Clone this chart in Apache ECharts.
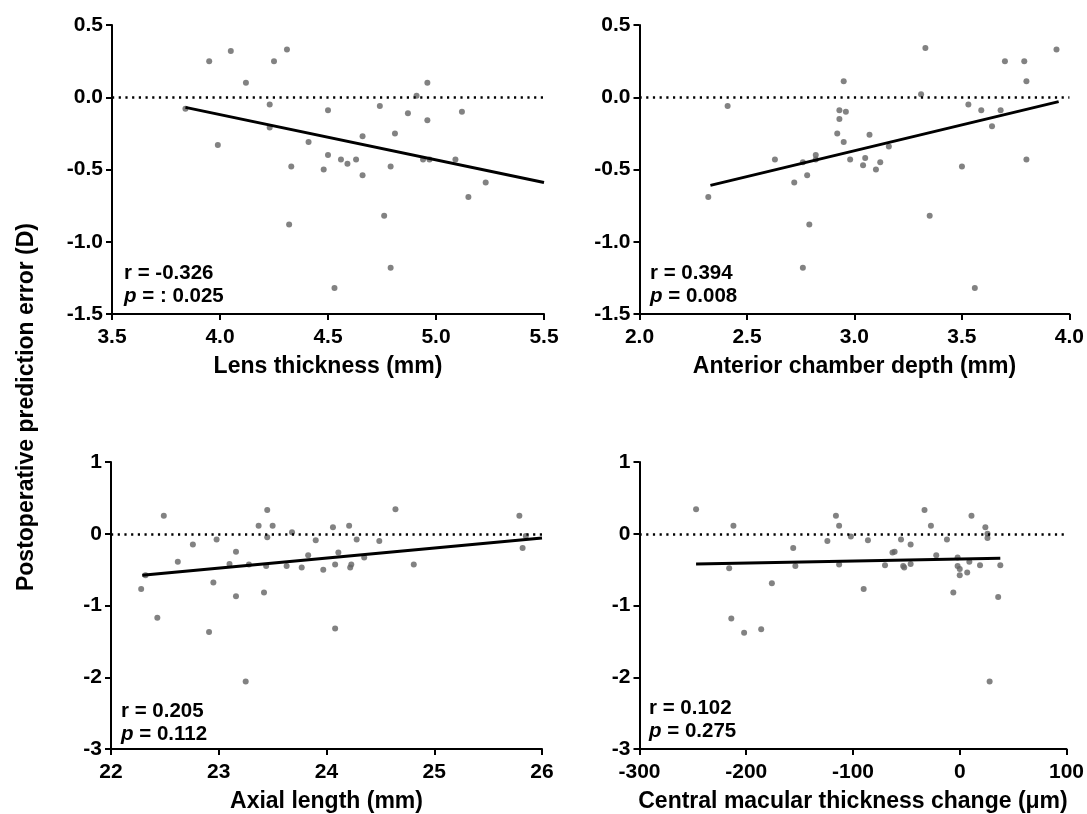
<!DOCTYPE html>
<html>
<head>
<meta charset="utf-8">
<script src="https://cdn.jsdelivr.net/npm/echarts@6/dist/echarts.min.js"></script>
<style>
html,body{margin:0;padding:0;background:#fff;}
#chart{width:1087px;height:814px;}
</style>
</head>
<body>
<div id="chart"></div>
<script>
// ---------- data ----------
const lensX = [3.84,3.95,4.05,3.99,4.12,4.23,4.23,4.25,4.31,4.33,4.32,4.41,4.48,4.50,4.50,4.53,4.56,4.59,4.63,4.66,4.66,4.74,4.76,4.79,4.79,4.81,4.87,4.91,4.94,4.96,4.96,4.97,5.09,5.12,5.15,5.23];
const lensY = [-0.08,0.25,0.32,-0.33,0.10,-0.05,-0.21,0.25,0.33,-0.48,-0.88,-0.31,-0.50,-0.09,-0.40,-1.32,-0.43,-0.46,-0.43,-0.27,-0.54,-0.06,-0.82,-0.48,-1.18,-0.25,-0.11,0.01,-0.43,0.10,-0.16,-0.43,-0.43,-0.10,-0.69,-0.59];
const lensFitX = [3.84, 5.5];
const lensFitY = [-0.07, -0.59];

const acdX = [2.32,2.41,2.63,2.72,2.76,2.76,2.78,2.79,2.82,2.82,2.92,2.93,2.93,2.95,2.95,2.96,2.98,3.04,3.05,3.07,3.10,3.12,3.16,3.31,3.33,3.35,3.50,3.53,3.56,3.59,3.64,3.68,3.70,3.79,3.80,3.80,3.94];
const acdY = [-0.69,-0.06,-0.43,-0.59,-0.45,-1.18,-0.54,-0.88,-0.40,-0.43,-0.25,-0.09,-0.15,0.11,-0.31,-0.10,-0.43,-0.47,-0.42,-0.26,-0.50,-0.45,-0.34,0.02,0.34,-0.82,-0.48,-0.05,-1.32,-0.09,-0.20,-0.09,0.25,0.25,0.11,-0.43,0.33];
const acdFitX = [2.33, 3.95];
const acdFitY = [-0.61, -0.03];

const alX = [22.28,22.32,22.43,22.49,22.62,22.76,22.91,22.95,22.98,23.10,23.16,23.16,23.25,23.28,23.37,23.42,23.44,23.45,23.45,23.50,23.63,23.68,23.77,23.83,23.90,23.97,24.06,24.08,24.08,24.11,24.21,24.22,24.23,24.28,24.35,24.49,24.64,24.81,25.79,25.82,25.85];
const alY = [-0.77,-0.58,-1.17,0.25,-0.39,-0.15,-1.37,-0.68,-0.08,-0.42,-0.25,-0.87,-2.06,-0.43,0.11,-0.82,-0.45,0.33,-0.05,0.11,-0.45,0.02,-0.47,-0.30,-0.09,-0.50,0.09,-0.43,-1.32,-0.26,0.11,-0.47,-0.43,-0.08,-0.33,-0.10,0.34,-0.43,0.25,-0.20,-0.03];
const alFitX = [22.29, 26.0];
const alFitY = [-0.58, -0.06];

const cmtX = [-247,-216,-214,-212,-202,-186,-176,-156,-154,-124,-116,-113,-113,-102,-90,-86,-70,-63,-61,-55,-53,-52,-46,-46,-33,-27,-22,-12,-6,-2,-2,0,0,7,9,11,19,24,26,26,28,36,38];
const cmtY = [0.34,-0.48,-1.18,0.11,-1.38,-1.33,-0.69,-0.20,-0.45,-0.10,0.25,0.11,-0.43,-0.04,-0.77,-0.09,-0.44,-0.26,-0.25,-0.08,-0.45,-0.47,-0.42,-0.15,0.33,0.11,-0.30,-0.08,-0.82,-0.33,-0.45,-0.49,-0.58,-0.54,-0.39,0.25,-0.44,0.09,0.00,-0.06,-2.06,-0.88,-0.44];
const cmtFitX = [-247, 38];
const cmtFitY = [-0.42, -0.34];

// tick labels
const lensTicks = [3.5, 4.0, 4.5, 5.0, 5.5];
const acdTicks = [2.0, 2.5, 3.0, 3.5, 4.0];
const alTicks = [22, 23, 24, 25, 26];
const cmtTicks = [-300, -200, -100, 0, 100];
const topYTicks = [-1.5, -1.0, -0.5, 0.0, 0.5];
const botYTicks = [-3, -2, -1, 0, 1];

const xTitles = ['Lens thickness (mm)', 'Anterior chamber depth (mm)', 'Axial length (mm)', 'Central macular thickness change (\u03bcm)'];
const yTitle = 'Postoperative prediction error (D)';
const rTexts = ['r = -0.326', 'r = 0.394', 'r = 0.205', 'r = 0.102'];
const pTexts = [' = : 0.025', ' = 0.008', ' = 0.112', ' = 0.275'];

// ---------- layout ----------
const FONT = '"Liberation Sans", Arial, sans-serif';
const grids = [
  {left: 112, top: 25, width: 432, height: 289},
  {left: 639.5, top: 25, width: 430.5, height: 289},
  {left: 111, top: 462, width: 431, height: 287},
  {left: 639.5, top: 462, width: 428, height: 287}
];
const annoPos = [[124, 262], [650, 262], [121, 700], [649, 697]];
const xTickSets = [lensTicks, acdTicks, alTicks, cmtTicks];
const yTickSets = [topYTicks, topYTicks, botYTicks, botYTicks];
const xDec = [1, 1, 0, 0];
const yDec = [1, 1, 0, 0];
const pts = [[lensX, lensY], [acdX, acdY], [alX, alY], [cmtX, cmtY]];
const fits = [[lensFitX, lensFitY], [acdFitX, acdFitY], [alFitX, alFitY], [cmtFitX, cmtFitY]];

function axisCommon() {
  return {
    axisLine: {show: true, onZero: false, lineStyle: {color: '#000', width: 2}},
    axisTick: {show: true, inside: false, length: 6, lineStyle: {color: '#000', width: 2}},
    splitLine: {show: false},
    axisLabel: {color: '#000', fontFamily: FONT, fontWeight: 'bold', fontSize: 21},
  };
}

const xAxis = [], yAxis = [], series = [], title = [];
for (let i = 0; i < 4; i++) {
  const xt = xTickSets[i], yt = yTickSets[i];
  const xa = axisCommon();
  Object.assign(xa, {
    type: 'value', gridIndex: i,
    min: xt[0], max: xt[xt.length - 1], interval: xt[1] - xt[0],
    name: xTitles[i], nameLocation: 'middle', nameGap: 41,
    nameTextStyle: {color: '#000', fontFamily: FONT, fontWeight: 'bold', fontSize: 23}
  });
  xa.axisLabel.margin = 13;
  const dx = xDec[i];
  xa.axisLabel.formatter = v => v.toFixed(dx);
  xAxis.push(xa);

  const ya = axisCommon();
  Object.assign(ya, {
    type: 'value', gridIndex: i,
    min: yt[0], max: yt[yt.length - 1], interval: yt[1] - yt[0]
  });
  ya.axisLabel.margin = 9;
  const dy = yDec[i];
  ya.axisLabel.formatter = v => v.toFixed(dy);
  yAxis.push(ya);

  const [px, py] = pts[i];
  series.push({
    type: 'scatter', xAxisIndex: i, yAxisIndex: i,
    data: px.map((x, k) => [x, py[k]]),
    symbol: 'circle', symbolSize: 6,
    itemStyle: {color: '#636363'},
    z: 3,
    markLine: {
      silent: true, symbol: 'none',
      label: {show: false},
      lineStyle: {color: '#000', width: 2.5, type: [2.2, 4.5]},
      data: [{yAxis: 0}],
      animation: false
    }
  });
  const [fx, fy] = fits[i];
  series.push({
    type: 'line', xAxisIndex: i, yAxisIndex: i,
    data: fx.map((x, k) => [x, fy[k]]),
    symbol: 'none',
    lineStyle: {color: '#000', width: 3},
    z: 4
  });

  title.push({
    left: annoPos[i][0], top: annoPos[i][1], padding: 0,
    text: '{b|' + rTexts[i] + '}\n{i|p}{b|' + pTexts[i] + '}',
    textStyle: {
      rich: {
        b: {fontFamily: FONT, fontWeight: 'bold', fontSize: 20.5, color: '#000', lineHeight: 23},
        i: {fontFamily: FONT, fontWeight: 'bold', fontStyle: 'italic', fontSize: 20.5, color: '#000', lineHeight: 23}
      }
    }
  });
}

const chart = echarts.init(document.getElementById('chart'), null, {renderer: 'canvas'});
chart.setOption({
  animation: false,
  backgroundColor: '#fff',
  title: title,
  grid: grids,
  xAxis: xAxis,
  yAxis: yAxis,
  series: series,
  graphic: [{
    type: 'text',
    x: 27, y: 407,
    rotation: Math.PI / 2,
    style: {
      text: yTitle,
      font: 'bold 23px ' + FONT,
      fill: '#000',
      align: 'center',
      verticalAlign: 'middle'
    }
  }]
});
</script>
</body>
</html>
